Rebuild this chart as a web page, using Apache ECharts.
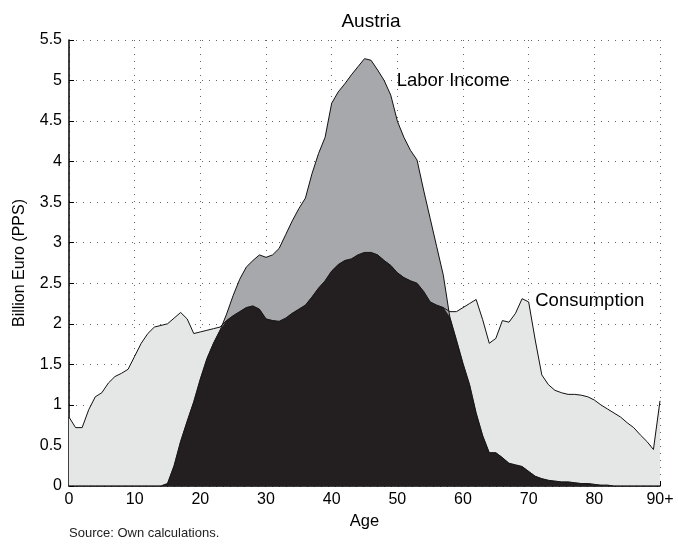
<!DOCTYPE html>
<html>
<head>
<meta charset="utf-8">
<script src="https://cdn.jsdelivr.net/npm/echarts@6/dist/echarts.min.js"></script>
<style>html,body{margin:0;padding:0;background:#fff}#c{width:678px;height:547px}</style>
</head>
<body>
<div id="c"></div>
<script>
var ages = [];
for (var a = 0; a <= 90; a++) ages.push(a);

var consumption = [0.85,0.72,0.72,0.94,1.10,1.15,1.27,1.35,1.39,1.44,
  1.60,1.76,1.88,1.96,1.98,2.00,2.07,2.14,2.06,1.88,
  1.90,1.92,1.94,1.96,2.04,2.10,2.15,2.20,2.22,2.18,
  2.06,2.04,2.03,2.07,2.13,2.18,2.23,2.33,2.44,2.53,
  2.65,2.73,2.78,2.80,2.85,2.88,2.88,2.85,2.78,2.72,
  2.63,2.57,2.53,2.50,2.40,2.27,2.23,2.20,2.15,2.15,
  2.20,2.25,2.30,2.05,1.76,1.82,2.04,2.02,2.13,2.31,
  2.27,1.80,1.37,1.25,1.18,1.15,1.13,1.13,1.12,1.10,
  1.06,1.00,0.95,0.90,0.85,0.78,0.72,0.63,0.55,0.45,
  1.05];

var laborIncome = [0,0,0,0,0,0,0,0,0,0,
  0,0,0,0,0,0.03,0.25,0.55,0.80,1.04,
  1.32,1.57,1.76,1.92,2.12,2.35,2.55,2.70,2.78,2.85,
  2.82,2.85,2.93,3.10,3.27,3.42,3.55,3.85,4.10,4.30,
  4.72,4.86,4.96,5.07,5.17,5.27,5.25,5.13,5.00,4.82,
  4.50,4.30,4.14,4.02,3.65,3.30,2.95,2.60,2.08,1.80,
  1.51,1.25,0.90,0.62,0.41,0.41,0.35,0.28,0.26,0.24,
  0.18,0.12,0.09,0.07,0.06,0.05,0.05,0.04,0.03,0.03,
  0.02,0.01,0.01,0,0,0,0,0,0,0,
  0];

var xTicks = [0,10,20,30,40,50,60,70,80,90];
var xTickLabels = ['0','10','20','30','40','50','60','70','80','90+'];

function pairs(vals){ return ages.map(function(a,i){ return [a, vals[i]]; }); }
var overlap = consumption.map(function(c,i){ return Math.min(c, laborIncome[i]); });

var font = 'Liberation Sans, Arial, sans-serif';
var chart = echarts.init(document.getElementById('c'), null, {renderer:'canvas'});
var gridStyle = {show:true, lineStyle:{color:'#666', width:1, type:[1,6]}};
chart.setOption({
  animation:false,
  backgroundColor:'#fff',
  title:{text:'Austria', left:366, top:7, textAlign:'center',
    textStyle:{fontFamily:font, fontSize:19, fontWeight:'normal', color:'#000'}},
  grid:{left:69, right:18, top:40, bottom:61},
  xAxis:{type:'value', min:0, max:90, interval:10,
    name:'Age', nameLocation:'middle', nameGap:27,
    nameTextStyle:{fontFamily:font, fontSize:16.5, color:'#000'},
    axisLine:{show:true, onZero:false, lineStyle:{color:'#000', width:1.5}},
    axisTick:{show:true, inside:true, length:5, lineStyle:{color:'#000'}},
    axisLabel:{fontFamily:font, fontSize:16, color:'#000', margin:6,
      formatter:function(v){ var i = xTicks.indexOf(v); return i>=0 ? xTickLabels[i] : ''; }},
    splitLine:gridStyle},
  yAxis:{type:'value', min:0, max:5.5, interval:0.5,
    name:'Billion Euro (PPS)', nameLocation:'middle', nameGap:41,
    nameTextStyle:{fontFamily:font, fontSize:16, color:'#000'},
    axisLine:{show:true, lineStyle:{color:'#000', width:1.5}},
    axisTick:{show:true, inside:true, length:5, lineStyle:{color:'#000'}},
    axisLabel:{fontFamily:font, fontSize:16, color:'#000', margin:7},
    splitLine:gridStyle},
  series:[
    {type:'line', name:'Consumption', data:pairs(consumption), symbol:'none',
      lineStyle:{color:'#111', width:1}, areaStyle:{color:'#e5e6e6', opacity:1},
      markPoint:{symbol:'circle', symbolSize:0, silent:true,
        data:[{coord:[71, 2.28], value:'Consumption'}],
        label:{show:true, position:'right', distance:0, formatter:'Consumption',
          fontFamily:font, fontSize:18.5, color:'#000'}}},
    {type:'line', name:'Labor Income', data:pairs(laborIncome), symbol:'none',
      lineStyle:{color:'#111', width:1}, areaStyle:{color:'#a7a8ab', opacity:1},
      markPoint:{symbol:'circle', symbolSize:0, silent:true,
        data:[{coord:[49.9, 4.99], value:'Labor Income'}],
        label:{show:true, position:'right', distance:0, formatter:'Labor Income',
          fontFamily:font, fontSize:18.5, color:'#000'}}},
    {type:'line', name:'Overlap', data:pairs(overlap), symbol:'none',
      lineStyle:{color:'#231f20', width:0.5}, areaStyle:{color:'#231f20', opacity:1}}
  ],
  graphic:[{type:'text', left:69, top:527,
    style:{text:'Source: Own calculations.', font:'13px ' + font, fill:'#222'}}]
});
</script>
</body>
</html>
